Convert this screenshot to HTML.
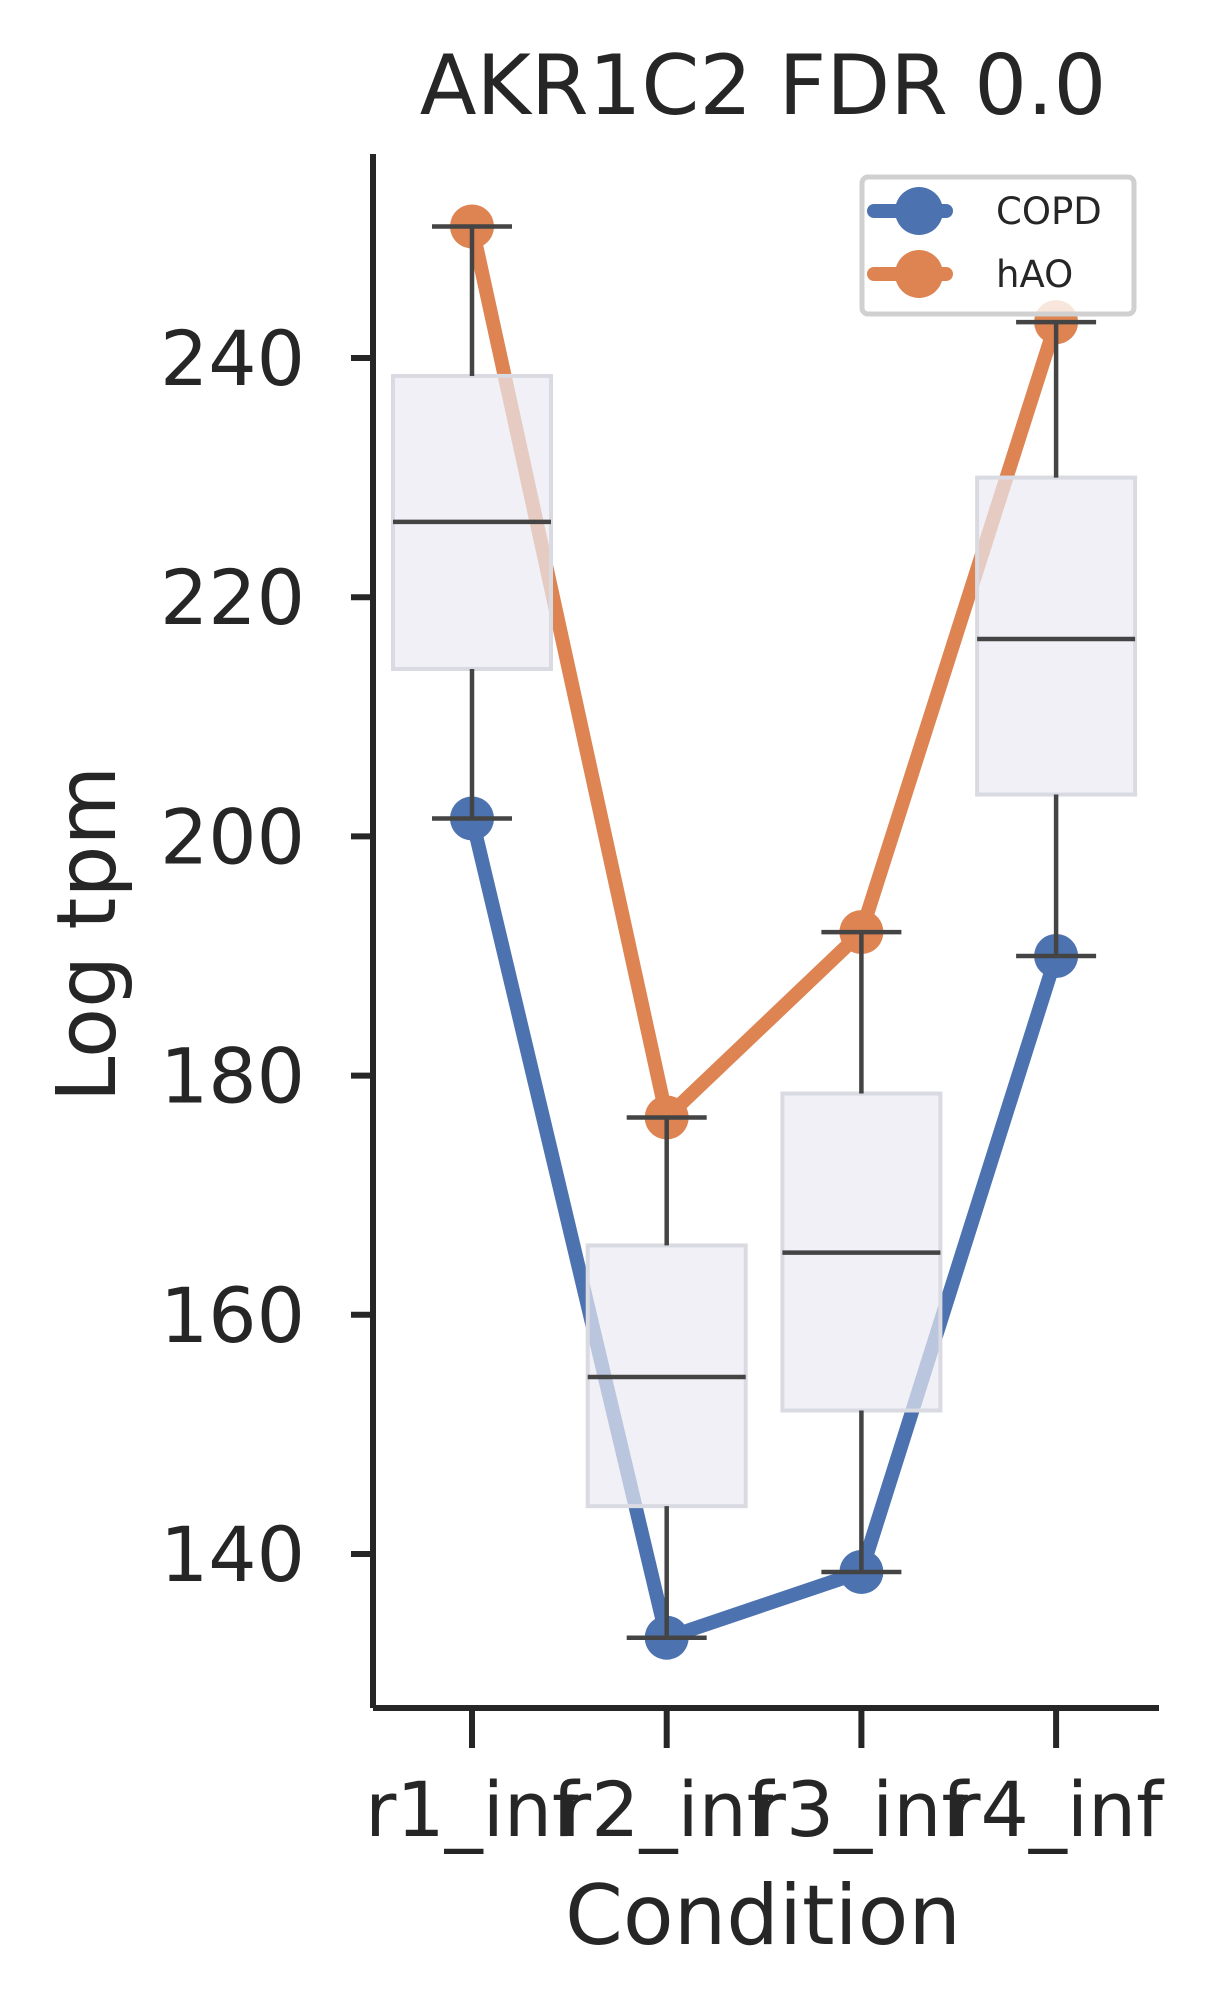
<!DOCTYPE html>
<html><head><meta charset="utf-8"><style>
html,body{margin:0;padding:0;background:#fff;}
svg{display:block;font-family:"DejaVu Sans","Liberation Sans",sans-serif;}
</style></head><body>
<svg id="chart" width="1206" height="1996" viewBox="0 0 1206 1996" xmlns="http://www.w3.org/2000/svg">
<g id="g"></g>
<text x="763" y="114" text-anchor="middle" font-size="83" fill="#262626">AKR1C2 FDR 0.0</text>
<text x="763" y="1944" text-anchor="middle" font-size="83" fill="#262626">Condition</text>
<text transform="translate(115,934) rotate(-90)" text-anchor="middle" font-size="82" fill="#262626">Log tpm</text>
<g>
<rect x="862" y="177" width="272" height="137" rx="6" fill="#fff" fill-opacity="0.8" stroke="#d0d0d0" stroke-width="5"/>
<g>
<line x1="874" x2="946" y1="211" y2="211" stroke="#4c72b0" stroke-width="14" stroke-linecap="round"/>
<circle cx="919" cy="211" r="24" fill="#4c72b0"/>
<text x="996" y="224" font-size="37" fill="#262626">COPD</text>
</g>
<g>
<line x1="874" x2="946" y1="274" y2="274" stroke="#dd8452" stroke-width="14" stroke-linecap="round"/>
<circle cx="919" cy="274" r="24" fill="#dd8452"/>
<text x="996" y="287" font-size="37" fill="#262626">hAO</text>
</g>
</g>
</svg>
<script>
const categories = ["r1_inf","r2_inf","r3_inf","r4_inf"];
const copdValues = [201.5, 133, 138.5, 190];
const haoValues = [251, 176.5, 192, 243];
const boxQ1 = [214, 144, 152, 203.5];
const boxMedian = [226.3, 154.8, 165.2, 216.5];
const boxQ3 = [238.5, 165.8, 178.5, 230];
const whiskLow = [201.5, 133, 138.5, 190];
const whiskHigh = [251, 176.5, 192, 243];
const yTicks = [140, 160, 180, 200, 220, 240];

const NS = "http://www.w3.org/2000/svg";
const g = document.getElementById('g');
const axL = 373, axR = 1159, axT = 154, axB = 1708;
function y(v){ return 1554 + (v - 140) * (358 - 1554) / 100; }
function x(i){ return 472 + i * 194.7; }
function el(tag, attrs, parent){
  const e = document.createElementNS(NS, tag);
  for (const k in attrs) e.setAttribute(k, attrs[k]);
  (parent || g).appendChild(e);
  return e;
}
const boxHalf = 79;
function series(vals, color, name){
  const sg = el('g', {});
  
  
  const pts = vals.map((v,i)=>x(i)+','+y(v)).join(' ');
  const pl = el('polyline', {points: pts, fill:'none', stroke: color, 'stroke-width': 14, 'stroke-linejoin':'round'}, sg);
  
  
  vals.forEach((v,i)=>{
    const c = el('circle', {cx: x(i), cy: y(v), r: 22, fill: color}, sg);
    
    
  });
}
series(copdValues, '#4c72b0', 'copd');
series(haoValues, '#dd8452', 'hao');
categories.forEach((c,i)=>{
  const bg = el('g', {});
  
  
  el('rect', {x: x(i)-boxHalf, y: y(boxQ3[i]), width: boxHalf*2, height: y(boxQ1[i]) - y(boxQ3[i]), fill:'#eaeaf2', 'fill-opacity':0.7, stroke:'#dadae2', 'stroke-width':4}, bg);
  el('line', {x1: x(i)-boxHalf, x2: x(i)+boxHalf, y1: y(boxMedian[i]), y2: y(boxMedian[i]), stroke:'#444', 'stroke-width':4.5}, bg);
  el('line', {x1: x(i), x2: x(i), y1: y(boxQ3[i]), y2: y(whiskHigh[i]), stroke:'#444', 'stroke-width':4.5}, bg);
  el('line', {x1: x(i), x2: x(i), y1: y(boxQ1[i]), y2: y(whiskLow[i]), stroke:'#444', 'stroke-width':4.5}, bg);
  el('line', {x1: x(i)-40, x2: x(i)+40, y1: y(whiskHigh[i]), y2: y(whiskHigh[i]), stroke:'#444', 'stroke-width':4.5}, bg);
  el('line', {x1: x(i)-40, x2: x(i)+40, y1: y(whiskLow[i]), y2: y(whiskLow[i]), stroke:'#444', 'stroke-width':4.5}, bg);
});
const ya = el('line', {x1: axL, x2: axL, y1: axT, y2: axB, stroke:'#262626', 'stroke-width':6});


const xa = el('line', {x1: axL, x2: axR, y1: axB, y2: axB, stroke:'#262626', 'stroke-width':6});


yTicks.forEach(t=>{
  el('line', {x1: axL-22, x2: axL, y1: y(t), y2: y(t), stroke:'#262626', 'stroke-width':6});
  const tx = el('text', {x: 305, y: y(t)+27, 'text-anchor':'end', 'font-size':76, fill:'#262626'});
  tx.textContent = t;
  
  
});
categories.forEach((c,i)=>{
  el('line', {x1: x(i), x2: x(i), y1: axB, y2: axB+40, stroke:'#262626', 'stroke-width':6});
  const tx = el('text', {x: x(i), y: 1836, 'text-anchor':'middle', 'font-size':76, fill:'#262626'});
  tx.textContent = c;
  
  
});
</script>
</body></html>
